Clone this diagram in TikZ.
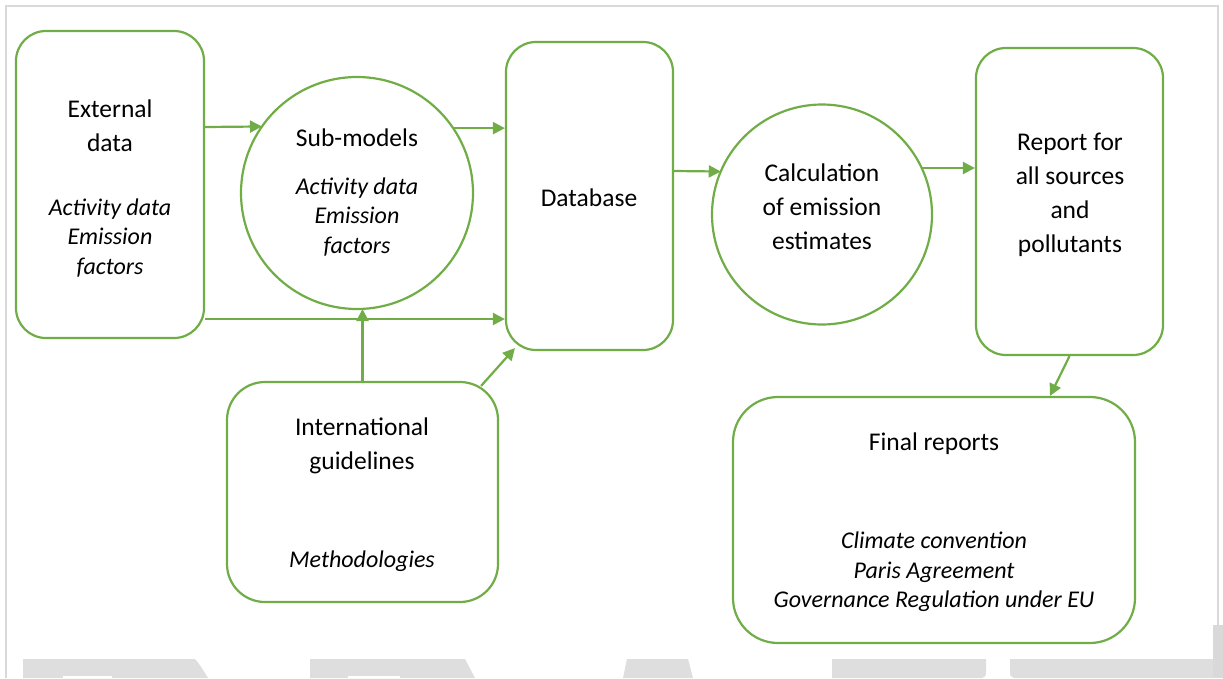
\documentclass[tikz,border=0pt]{standalone}
\usepackage{fontspec}
\setmainfont{Carlito}
\usetikzlibrary{arrows.meta,calc}
\definecolor{gr}{RGB}{112,173,71}
\definecolor{wm}{RGB}{222,222,222}
\definecolor{bd}{RGB}{217,217,217}
\begin{document}
\begin{tikzpicture}[x=1pt,y=-1pt,
 box/.style={draw=gr,line width=2.2pt,rounded corners=30pt,inner sep=0pt},
 circ/.style={draw=gr,line width=2.2pt,circle,inner sep=0pt,outer sep=0pt},
 arr/.style={draw=gr,line width=2.2pt,-{Triangle[length=12pt,width=12pt]}},
 txt/.style={font=\fontsize{25.5}{34}\selectfont,align=center,inner sep=0pt},
 itx/.style={font=\fontsize{24}{29.3}\selectfont\itshape,align=center,inner sep=0pt}]
\useasboundingbox (0,0) rectangle (1223,678);
% watermark
\fill[wm] (23,659) -- (195,659) .. controls (200,665) .. (208,678) -- (23,678) -- cycle;
\fill[white] (63,676) rectangle (112,678);
\fill[wm] (310,659) -- (465,659) -- (475,678) -- (310,678) -- cycle;
\fill[white] (348,676) rectangle (400,678);
\fill[wm] (627,659) -- (688,659) -- (693,678) -- (623,678) -- cycle;
\fill[wm] (832,659) -- (986,659) -- (986,670) .. controls (986,676) .. (982,678) -- (832,678) -- cycle;
\fill[wm] (1010,659) -- (1213,659) -- (1213,678) -- (1014,678) .. controls (1010,676) .. (1010,670) -- cycle;
% border
\draw[bd,line width=1.5pt] (6,678) -- (6,6) -- (1218,6) -- (1218,678);
\fill[bd] (1213,625) rectangle (1223,678);
% shapes
\node[box,minimum width=188pt,minimum height=307pt] (ext) at (110,184.5) {};
\node[circ,minimum size=232pt] (sub) at (357,193) {};
\node[box,minimum width=167pt,minimum height=308pt] (db) at (589.5,196) {};
\node[circ,minimum size=220pt] (calc) at (822,214.5) {};
\node[box,minimum width=187pt,minimum height=307pt] (rep) at (1069.5,201.5) {};
\node[box,minimum width=271pt,minimum height=220pt,rounded corners=38pt] (intl) at (362.5,492) {};
\node[box,minimum width=402pt,minimum height=246pt,rounded corners=45pt] (fin) at (934,520) {};
% texts
\node[txt] (t1) at (110,126) {External\\data};
\node[itx] (t2) at (110,238) {Activity data\\Emission\\factors};
\node[txt] (t3) at (357,138) {Sub-models};
\node[itx] (t4) at (357,217) {Activity data\\Emission\\factors};
\node[txt] (t5) at (589,198) {Database};
\node[txt] (t6) at (822,207) {Calculation\\of emission\\estimates};
\node[txt] (t7) at (1070,194.5) {Report for\\all sources\\and\\pollutants};
\node[txt] (t8) at (362,445.5) {International\\guidelines};
\node[itx] (t9) at (362,561) {Methodologies};
\node[txt] (t10) at (934,444) {Final reports};
\node[itx] (t11) at (934,572) {Climate convention\\Paris Agreement\\Governance Regulation under EU};
% connectors
\coordinate (e0) at ([yshift=57.5pt]ext.east);
\coordinate (e1) at ([yshift=-134.5pt]ext.east);
\draw[arr] (e0) -- (sub.145.3);
\draw[arr] (sub.34.7) -- (sub.34.7 -| db.west);
\draw[arr] (e1) -- (e1 -| db.west);
\draw[arr] (intl.north) -- (intl.north |- sub.south);
\draw[arr] ([xshift=-18pt,yshift=-5pt]intl.north east) -- ([xshift=10pt,yshift=3pt]db.south west);
\draw[arr] ([yshift=25pt]db.east) -- (calc.157);
\draw[arr] (calc.25.3) -- (calc.25.3 -| rep.west);
\draw[arr] (rep.south) -- ([xshift=116pt]fin.north);
\end{tikzpicture}
\end{document}
